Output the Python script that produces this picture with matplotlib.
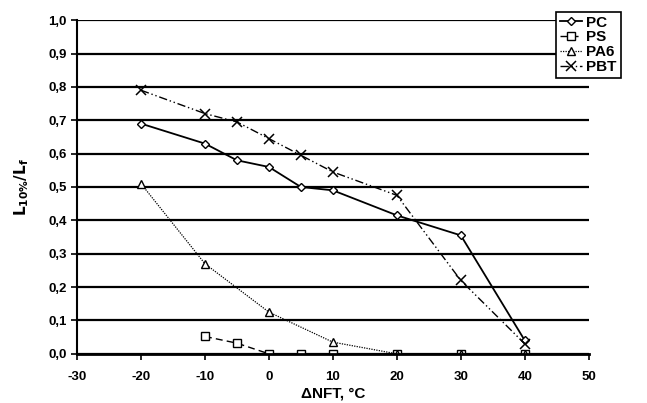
import numpy as np
import matplotlib
matplotlib.use("Agg")
import matplotlib.pyplot as plt
from matplotlib.ticker import MultipleLocator, FuncFormatter

plt.rcParams['font.family'] = ['Liberation Sans', 'DejaVu Sans']
plt.rcParams['font.weight'] = 'bold'
plt.rcParams['axes.unicode_minus'] = False

# data
pc_x = [-20, -10, -5, 0, 5, 10, 20, 30, 40]
pc_y = [0.69, 0.63, 0.58, 0.56, 0.50, 0.49, 0.415, 0.355, 0.04]

ps_x = [-10, -5, 0, 5, 10, 20, 30, 40]
ps_y = [0.052, 0.032, 0.0, 0.0, 0.0, 0.0, 0.0, 0.0]

pa6_x = [-20, -10, 0, 10, 20, 30, 40]
pa6_y = [0.51, 0.27, 0.125, 0.035, 0.0, 0.0, 0.0]

pbt_x = [-20, -10, -5, 0, 5, 10, 20, 30, 40]
pbt_y = [0.79, 0.72, 0.695, 0.645, 0.595, 0.545, 0.475, 0.22, 0.03]

fig = plt.figure(figsize=(6.47, 4.03), dpi=100)
ax = fig.add_axes([0.119, 0.122, 0.791, 0.828])

ax.plot(pc_x, pc_y, color='black', lw=1.3, ls='-', marker='D', ms=4,
        mfc='white', mec='black', mew=1.0, label='PC')
ax.plot(ps_x, ps_y, color='black', lw=1.0, ls=(0, (5, 3)), marker='s', ms=5.5,
        mfc='white', mec='black', mew=1.0, label='PS')
ax.plot(pa6_x, pa6_y, color='black', lw=0.9, ls=(0, (1, 1)), marker='^', ms=5.5,
        mfc='white', mec='black', mew=1.0, label='PA6')
ax.plot(pbt_x, pbt_y, color='black', lw=1.0, ls=(0, (6, 2, 1, 2, 1, 2)), marker='x', ms=6.5,
        mec='black', mew=1.1, label='PBT')

ax.set_xlim(-30, 50)
ax.set_ylim(0, 1.0)
ax.xaxis.set_major_locator(MultipleLocator(10))
ax.yaxis.set_major_locator(MultipleLocator(0.1))
ax.yaxis.set_major_formatter(FuncFormatter(lambda v, p: f"{v:.1f}".replace('.', ',')))

ax.yaxis.grid(True, color='black', lw=1.6)
ax.set_axisbelow(True)
for s in ['top', 'right']:
    ax.spines[s].set_visible(False)
ax.spines['left'].set_linewidth(1.5)
ax.spines['bottom'].set_linewidth(2.0)
ax.tick_params(axis='both', direction='out', length=4, width=1.2, labelsize=9.5)
ax.tick_params(axis='x', pad=8)
for lab in ax.get_xticklabels() + ax.get_yticklabels():
    lab.set_fontweight('bold')

ax.set_xlabel('ΔNFT, °C', fontsize=11, fontweight='bold', labelpad=3)
ax.set_ylabel(r'$\mathbf{L_{10\%}/L_f}$', fontsize=11, labelpad=12)

leg = ax.legend(loc='upper right', bbox_to_anchor=(1.062, 1.025), frameon=True, fancybox=False,
                edgecolor='black', fontsize=11, handlelength=1.5, handletextpad=0.25,
                borderpad=0.25, labelspacing=0.05, borderaxespad=0, framealpha=1)
leg.get_frame().set_linewidth(1.2)
for t in leg.get_texts():
    t.set_fontweight('bold')

fig.savefig('out.png', dpi=100)
